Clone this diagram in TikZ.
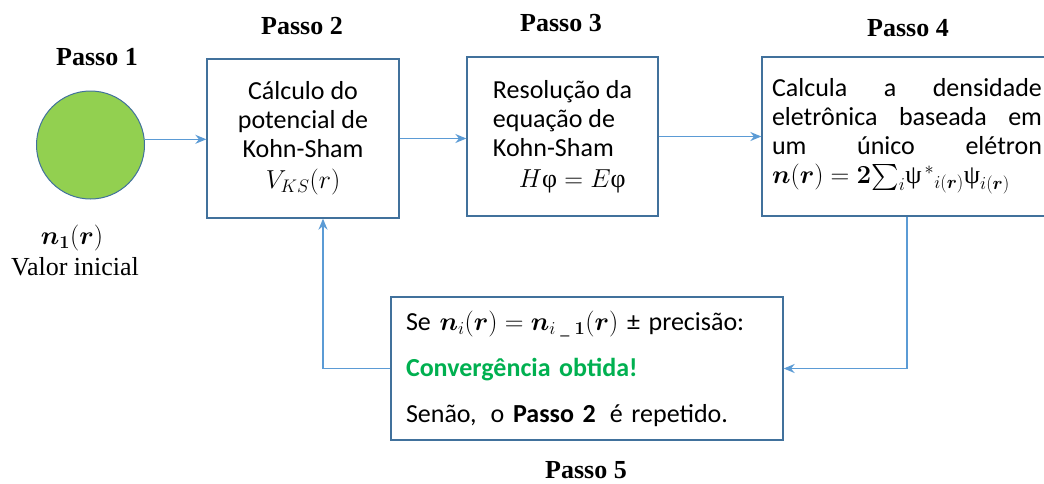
\RequirePackage{fix-cm}
\documentclass[tikz,border=0pt]{standalone}
\usepackage{amsmath}
\usepackage{amssymb}
\usepackage{bm}
\usepackage{fontspec}
\setmainfont{Carlito}
\newfontfamily\tnr{Liberation Serif}
\usepackage{tikz}
\usetikzlibrary{arrows.meta}

\definecolor{borda}{RGB}{65,113,156}
\definecolor{linha}{RGB}{91,155,213}
\definecolor{verdec}{RGB}{146,208,80}
\definecolor{verdet}{RGB}{0,176,80}

\newcommand{\grpsi}{\text{\tnr\mdseries ψ}}
\newcommand{\grphi}{\text{\tnr\mdseries φ}}

\begin{document}
\begin{tikzpicture}[x=1pt,y=-1pt]
		% Styles for boxes, labels and arrows
		\tikzset{caixa/.style={draw=borda, line width=1.3pt, inner sep=0pt, font=\fontsize{26}{29}\selectfont},
			passo/.style={font=\tnr\bfseries\fontsize{26}{30}\selectfont},
			seta/.style={draw=linha, line width=1.4pt, -{Stealth[length=11pt,width=9pt]}}}
		
		% Fix the margins of the page
		\useasboundingbox (0,0) rectangle (1044,483);
		
		% Step 1: the initial density
		\node[draw=borda, fill=verdec, line width=1pt, circle, minimum size=108pt] (c1) at (90.5,145) {};
		\node[passo] (t1) at (97,57) {Passo 1};
		\node[font=\fontsize{26}{30}\selectfont] (n1) at (72,238) {$\boldsymbol{n}_{\boldsymbol{1}}(\boldsymbol{r})$};
		\node[font=\tnr\fontsize{26}{30}\selectfont] (vi) at (75,267) {Valor inicial};
		
		% Step 2: the Kohn-Sham potential
		\node[caixa, minimum width=192pt, minimum height=159pt, align=center] (p2) at (303,138.5)
			{Cálculo do\\potencial de\\Kohn-Sham\\[2pt]$V_{KS}(r)$};
		\node[passo] (t2) at (302,26) {Passo 2};
		
		% Step 3: solving the equation
		\node[caixa, minimum width=191pt, minimum height=159pt, align=left] (p3) at (562.5,136.5)
			{Resolução da\\equação de\\Kohn-Sham\\[2pt]\hspace*{26pt}$H\grphi = E\grphi$};
		\node[passo] (t3) at (561,23) {Passo 3};
		
		% Step 4: the electron density
		\node[caixa, minimum width=290pt, minimum height=159pt, text width=270pt, inner xsep=10pt, align=justify] (p4) at (907,136.5)
			{Calcula a densidade\linebreak eletrônica baseada em\linebreak um único elétron\linebreak
			$\boldsymbol{n}(\boldsymbol{r}) = \boldsymbol{2}{\textstyle\sum_{i}}\grpsi^{\,*}{}_{i(\boldsymbol{r})}\grpsi_{i(\boldsymbol{r})}$};
		\node[passo] (t4) at (908,28) {Passo 4};
		
		% Step 5: the convergence test
		\node[caixa, minimum width=392pt, minimum height=143pt, text width=362pt, inner xsep=15pt, align=left] (p5) at (587,368.5)
			{Se $\boldsymbol{n}_{i}(\boldsymbol{r}) = \boldsymbol{n}_{i\;\_\;\boldsymbol{1}}(\boldsymbol{r})$ ± precisão:\\[17pt]
			{\color{verdet}\bfseries Convergência obtida!}\\[17pt]
			Senão,\hspace{14pt}o \textbf{Passo 2}\hspace{14pt}é repetido.};
		\node[passo] (t5) at (586,470) {Passo 5};
		
		% Arrows between the steps
		\draw[seta] (c1.6) -- (c1.6 -| p2.west);
		\draw[seta] (p2.east) -- (p2.east -| p3.west);
		\draw[seta] (p3.east) -- (p3.east -| p4.west);
		\draw[seta] (p4.south) |- (p5.east);
		\draw[seta] (p5.west) -| ([xshift=20pt]p2.south);
	\end{tikzpicture}
\end{document}
